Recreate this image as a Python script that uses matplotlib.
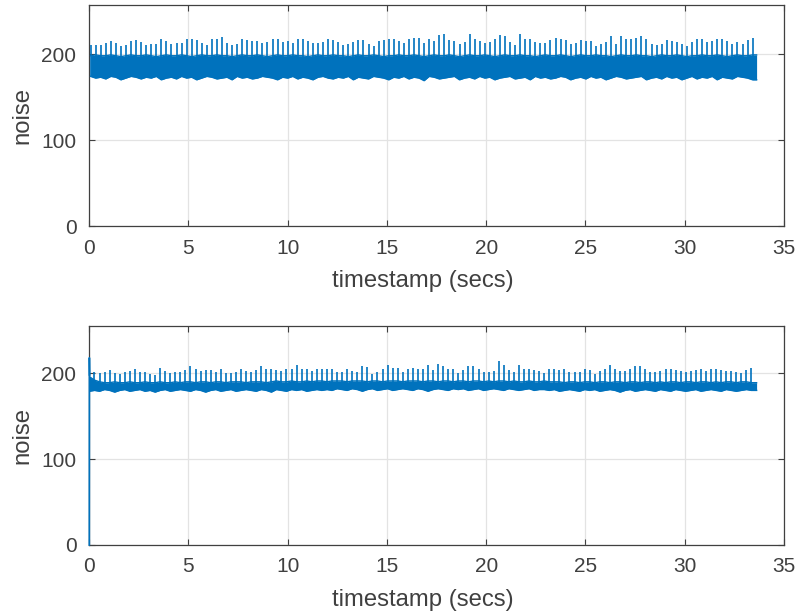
import numpy as np
import matplotlib
matplotlib.use("Agg")
import matplotlib.pyplot as plt

# ---------------- data ----------------
SPIKE_PERIOD = 0.2545          # seconds between the periodic spikes
TOP_FIRST_SPIKE = 0.08
BOT_FIRST_SPIKE = 0.02
T_END = 33.62

x_ticks = [0, 5, 10, 15, 20, 25, 30, 35]
y_ticks = [0, 100, 200]
x_label = "timestamp (secs)"
y_label = "noise"

top_peaks = [210.5, 210.5, 210.5, 213, 215.5, 212.5, 209.5, 210.5, 215.5, 216.5,
             213.5, 210.5, 211.5, 211.5, 217, 215.5, 211.5, 213, 213, 217,
             217, 216.5, 212.5, 210.5, 217, 217, 219.5, 213, 210.5, 211.5,
             218, 216.5, 215.5, 215.5, 213, 214.5, 217, 218, 214.5, 215.5,
             213, 217, 217, 215.5, 213, 212.5, 214.5, 217,
             216, 214, 210.5, 212, 214, 216, 216, 212, 209, 215.5,
             216, 218, 218, 215.5, 213, 217, 219, 219, 213, 217,
             215.5, 222, 223, 216, 215.5, 211.5, 214, 223, 217, 215.5,
             213, 214, 218, 222, 221, 214, 210.5, 223, 217, 217,
             214, 213, 213, 216, 219, 218, 216,
             212, 213, 216, 215.5, 215.5, 209, 212, 214, 221, 211.5,
             221, 217, 217, 219, 221, 217, 211.5, 210.5, 212, 216,
             215.5, 214, 211.5, 209, 214, 217, 218, 214, 215.5, 217,
             217, 215.5, 212, 214, 212, 216, 219]

top_lows = [174, 172, 173, 171, 174, 173, 170, 172, 174, 173,
            171, 173, 172, 174, 170, 172, 173, 171, 174, 172,
            173, 170, 172, 174, 173, 171, 172, 173, 170, 174,
            172, 173, 171, 172, 174, 173, 172, 170, 173, 172,
            174, 171, 173, 172, 170, 173, 174, 172, 171, 173,
            172, 174, 170, 173, 172, 171, 174, 173, 172, 170,
            173, 172, 174, 171, 173, 172, 169, 174, 173, 171,
            172, 173, 174, 170, 172, 173, 171, 174, 172, 173,
            170, 172, 173, 174, 171, 172, 173, 170, 174, 172,
            173, 171, 172, 174, 173, 170, 172, 173, 171, 174,
            172, 173, 170, 172, 174, 173, 171, 172, 173, 174,
            170, 172, 173, 171, 174, 172, 173, 170, 172, 174,
            171, 173, 172, 174, 170, 173, 172, 171, 174, 173,
            172, 170]

top_highs = [198, 199, 198, 198, 199, 198, 197, 198, 199, 198,
             198, 199, 198, 197, 198, 199, 198, 198, 199, 198,
             197, 198, 199, 198, 198, 199, 198, 198, 197, 198,
             199, 198, 198, 199, 198, 197, 198, 199, 198, 198,
             199, 198, 198, 197, 198, 199, 198, 198, 199, 198,
             198, 197, 198, 199, 198, 198, 199, 198, 197, 198,
             198, 199, 198, 198, 199, 198, 197, 198, 199, 198,
             198, 199, 198, 197, 198, 199, 198, 198, 199, 198,
             197, 198, 199, 198, 198, 199, 198, 198, 197, 198,
             199, 198, 198, 199, 198, 197, 198, 199, 198, 198,
             199, 198, 198, 197, 198, 199, 198, 198, 199, 198,
             198, 197, 198, 199, 198, 198, 199, 198, 197, 198,
             198, 199, 198, 198, 199, 198, 197, 198, 199, 198,
             198, 199]

bot_start_t = [0.015, 0.02, 0.03]
bot_start_v = [0, 218, 198]

bot_peaks = [205,
             201.5, 200.5, 201.5, 203.5, 200.5, 199.5, 201.5, 202.5, 204.5, 201.5,
             201.5, 199.5, 197.5, 206.5, 202.5, 200.5, 201.5, 201.5, 203.5, 208,
             204.5, 202.5, 203.5, 203.5, 201.5, 204.5, 200.5, 200.5, 201.5, 205.5,
             202.5, 201.5, 203.5, 208, 205.5, 204.5, 203.5, 202.5, 205.5, 205.5,
             209.5, 204.5, 204.5, 202.5, 205.5, 204.5, 205.5,
             205.5, 201.5, 201.5, 204.5, 202.5, 201.5, 208, 207.5, 199.5, 201,
             205.5, 209.5, 206.5, 206.5, 201.5, 205.5, 206.5, 204.5, 204.5, 209.5,
             203.5, 210.5, 208, 204.5, 204.5, 200.5, 203.5, 208, 208, 204.5,
             201.5, 201.5, 202.5, 214, 209.5, 203.5, 201.5, 209.5, 205.5, 204.5,
             203.5, 202.5, 200.5, 204.5, 204.5, 203.5, 204.5,
             201.5, 201.5, 201.5, 204.5, 203.5, 199.5, 202.5, 204.5, 209.5, 205.5,
             202.5, 202.5, 204.5, 208, 208, 205.5, 201.5, 201.5, 202.5, 205.5,
             205.5, 203.5, 202.5, 201.5, 202.5, 203.5, 204.5, 202.5, 204.5, 204.5,
             203.5, 202.5, 202.5, 201.5, 200.5, 203.5, 206.5]

bot_lows = [179, 180, 179, 181, 180, 178, 180, 181, 179, 180,
            181, 179, 180, 178, 180, 181, 179, 180, 181, 180,
            179, 181, 180, 178, 180, 181, 179, 180, 181, 179,
            180, 181, 180, 179, 181, 180, 178, 181, 180, 179,
            181, 180, 181, 179, 180, 181, 180, 181, 180, 182,
            181, 180, 182, 181, 179, 181, 182, 180, 181, 182,
            180, 181, 182, 181, 180, 182, 181, 179, 181, 182,
            181, 180, 182, 181, 182, 180, 181, 182, 180, 181,
            182, 181, 180, 182, 181, 180, 181, 182, 180, 181,
            181, 180, 181, 179, 180, 181, 180, 179, 181, 180,
            181, 179, 180, 181, 180, 178, 180, 181, 179, 180,
            181, 180, 179, 181, 180, 179, 181, 180, 179, 180,
            181, 179, 180, 181, 180, 179, 181, 180, 179, 180,
            181, 180]

bot_highs = [196, 192, 190, 189, 189, 190, 189, 189, 190, 189,
             189, 190, 189, 189, 190, 189, 189, 190, 189, 190,
             190, 189, 190, 190, 189, 190, 190, 189, 190, 190,
             190, 189, 190, 190, 190, 189, 190, 191, 190, 190,
             191, 190, 190, 191, 190, 191, 191, 190, 191, 191,
             191, 190, 191, 191, 191, 190, 191, 191, 190, 191,
             191, 191, 190, 191, 191, 191, 190, 191, 191, 190,
             191, 191, 190, 191, 191, 190, 191, 191, 190, 191,
             190, 191, 191, 190, 191, 190, 190, 191, 190, 190,
             191, 190, 190, 190, 189, 190, 190, 189, 190, 190,
             189, 190, 190, 189, 190, 190, 189, 190, 190, 189,
             190, 190, 189, 190, 189, 190, 190, 189, 190, 190,
             189, 190, 190, 189, 190, 189, 190, 190, 189, 190,
             190, 189]

# ---------------- styling ----------------
LINE_C = "#0072BD"
AX_C = "#404040"
GRID_C = "#e3e3e3"
plt.rcParams["font.family"] = ["Liberation Sans", "DejaVu Sans"]

fig = plt.figure(figsize=(7.96, 6.15), dpi=100)
ax_top = fig.add_axes([89 / 796, 389 / 615, 695 / 796, 221 / 615])
ax_bot = fig.add_axes([89 / 796, 70 / 615, 695 / 796, 219 / 615])


def draw_panel(ax, first_spike, peaks, lows, highs, ytop):
    n = len(peaks)
    t = first_spike + SPIKE_PERIOD * np.arange(n)
    tb = np.append(t, T_END)
    lo = np.append(lows, lows[-1])
    hi = np.append(highs, highs[-1])
    ax.fill_between(tb, lo, hi, color=LINE_C, lw=0.0, zorder=3)
    ax.plot(tb, lo, color=LINE_C, lw=1.0, zorder=3)
    ax.plot(tb, hi, color=LINE_C, lw=1.0, zorder=3)
    ax.vlines(t, lows, peaks, color=LINE_C, lw=1.2, zorder=3)
    ax.set_xlim(0, 35)
    ax.set_ylim(0, ytop)
    ax.set_xticks(x_ticks)
    ax.set_yticks(y_ticks)
    ax.grid(True, color=GRID_C, lw=0.9, zorder=0)
    ax.set_axisbelow(True)
    for s in ax.spines.values():
        s.set_color(AX_C)
        s.set_linewidth(0.9)
    ax.tick_params(direction="in", length=4, width=0.8, color=AX_C,
                   labelcolor=AX_C, labelsize=15, top=True, right=True,
                   pad=9)
    ax.set_xlabel(x_label, fontsize=17.2, color=AX_C, labelpad=8)
    ax.xaxis.set_label_coords(0.481, -0.2)
    ax.xaxis.label.set_verticalalignment("top")
    ax.set_ylabel(y_label, fontsize=17.2, color=AX_C, labelpad=6)


draw_panel(ax_top, TOP_FIRST_SPIKE, top_peaks, top_lows, top_highs, 257)
draw_panel(ax_bot, BOT_FIRST_SPIKE, bot_peaks, bot_lows, bot_highs, 255)
ax_bot.plot(bot_start_t, bot_start_v, color=LINE_C, lw=1.2, zorder=4,
            clip_on=False)

fig.savefig("out.png", dpi=100)
